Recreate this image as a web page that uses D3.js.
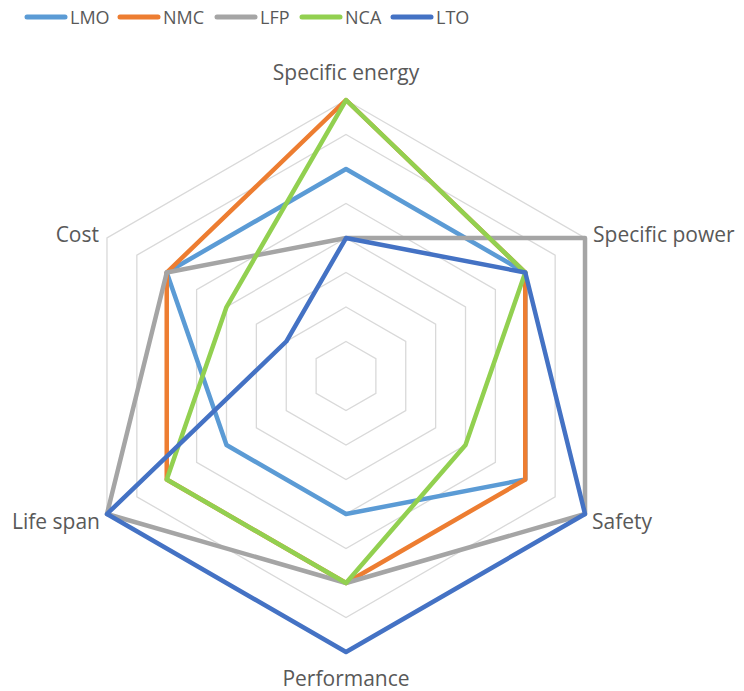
<!DOCTYPE html>
<html>
<head>
<meta charset="utf-8">
<script src="https://cdn.jsdelivr.net/npm/d3@7"></script>
<style>
  html, body { margin: 0; padding: 0; background: #fff; }
  svg { display: block; }
  text { font-family: "Open Sans", "Noto Sans", sans-serif; fill: #595959; }
</style>
</head>
<body>
<svg id="chart" width="744" height="691"></svg>
<script>
// Battery chemistry ratings (0–4 scale)
const axes = ["Specific energy", "Specific power", "Safety", "Performance", "Life span", "Cost"];
const seriesNames = ["LMO", "NMC", "LFP", "NCA", "LTO"];
const LMO = [3, 3, 3, 2, 2, 3];
const NMC = [4, 3, 3, 3, 3, 3];
const LFP = [2, 4, 4, 3, 4, 3];
const NCA = [4, 3, 2, 3, 3, 2];
const LTO = [2, 3, 4, 4, 4, 1];
const gridLevels = [0.5, 1, 1.5, 2, 2.5, 3, 3.5, 4];
const colors = ["#5b9bd5", "#ed7d31", "#a5a5a5", "#92d050", "#4472c4"];

const series = [LMO, NMC, LFP, NCA, LTO];

const svg = d3.select("#chart");
const cx = 346, cy = 376, R = 276;
const r = d3.scaleLinear().domain([0, 4]).range([0, R]);
const angle = d3.scalePoint().domain(axes).range([0, 2 * Math.PI * (axes.length - 1) / axes.length]);

const g = svg.append("g").attr("transform", `translate(${cx},${cy})`);

const radial = d3.lineRadial()
  .angle((d, i) => angle(axes[i]))
  .radius(d => r(d))
  .curve(d3.curveLinearClosed);

// Hexagonal grid rings
g.append("g").selectAll("path")
  .data(gridLevels)
  .join("path")
  .attr("d", lv => radial(axes.map(() => lv)))
  .attr("fill", "none")
  .attr("stroke", "#d9d9d9")
  .attr("stroke-width", 1.3);

// Series outlines
g.append("g").selectAll("path")
  .data(series)
  .join("path")
  .attr("d", d => radial(d))
  .attr("fill", "none")
  .attr("stroke", (d, i) => colors[i])
  .attr("stroke-width", 4.5)
  .attr("stroke-linejoin", "round");

// Axis labels
const labelPos = [
  { anchor: "middle", dx: 0, dy: -20 },
  { anchor: "start", dx: 8, dy: 4 },
  { anchor: "start", dx: 7, dy: 15 },
  { anchor: "middle", dx: 0, dy: 34 },
  { anchor: "end", dx: -7, dy: 15 },
  { anchor: "end", dx: -8, dy: 4 }
];
g.append("g").selectAll("text")
  .data(axes)
  .join("text")
  .attr("x", (d, i) => r(4) * Math.sin(angle(d)) + labelPos[i].dx)
  .attr("y", (d, i) => -r(4) * Math.cos(angle(d)) + labelPos[i].dy)
  .attr("text-anchor", (d, i) => labelPos[i].anchor)
  .attr("font-size", 21)
  .text(d => d);

// Legend
const legendX = [27, 120, 217, 302, 393];
const legend = svg.append("g").attr("transform", "translate(0,17)");
const item = legend.selectAll("g")
  .data(seriesNames)
  .join("g")
  .attr("transform", (d, i) => `translate(${legendX[i]},0)`);
item.append("line")
  .attr("x1", 0).attr("x2", 38)
  .attr("stroke", (d, i) => colors[i])
  .attr("stroke-width", 5)
  .attr("stroke-linecap", "round");
item.append("text")
  .attr("x", 43)
  .attr("y", 7)
  .attr("font-size", 18)
  .text(d => d);
</script>
</body>
</html>
